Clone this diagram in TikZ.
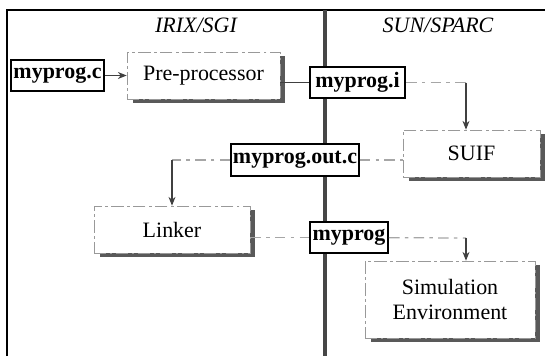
\documentclass[tikz,border=0pt]{standalone}
\usepackage{fontspec}
\setmainfont{Liberation Serif}
\usetikzlibrary{shadows,arrows.meta}
\begin{document}
\begin{tikzpicture}[x=0.02cm,y=-0.02cm,
    txt/.style={font=\fontsize{12.5}{14.5}\selectfont},
    file/.style={draw,line width=1.1pt,fill=white,inner sep=1pt,minimum height=0.62cm,
      font=\fontsize{12.5}{14.5}\selectfont\bfseries},
    tool/.style={txt,draw=gray!80,dash pattern=on 7pt off 2pt on 1.5pt off 2pt,fill=white,
      minimum height=0.94cm,align=center,
      drop shadow={shadow xshift=0.11cm,shadow yshift=-0.08cm,fill=gray!70!black,opacity=1}},
    ln/.style={draw=gray!50!black,line width=0.7pt},
    dl/.style={draw=gray!70,line width=0.7pt,dash pattern=on 6pt off 3pt on 2pt off 3pt},
    arr/.style={-{Stealth[length=5pt,width=4pt]}}
  ]
  \useasboundingbox (0,0) rectangle (545,356);
  %% frame and the two machines
  \draw[line width=1.2pt] (7,356) -- (7,10) -- (545,10);
  \draw[line width=2.4pt,gray!55!black] (325,10) -- (325,356);
  \node[txt,font=\fontsize{12.5}{14.5}\selectfont\itshape] (irix) at (196,25) {IRIX/SGI};
  \node[txt,font=\fontsize{12.5}{14.5}\selectfont\itshape] (sun) at (438,25) {SUN/SPARC};
  %% files
  \node[file,minimum width=1.86cm] (mc) at (57.5,75.5) {myprog.c};
  \node[file,minimum width=1.90cm] (mi) at (357.5,82.5) {myprog.i};
  \node[file,minimum width=2.48cm,minimum height=0.64cm] (oc) at (295,160) {myprog.out.c};
  \node[file,minimum width=1.56cm] (mp) at (349,237.5) {myprog};
  %% tools
  \node[tool,minimum width=3.06cm] (pre) at (203.5,75.5) {Pre-processor};
  \node[tool,minimum width=2.74cm] (suif) at (471.5,153.5) {SUIF};
  \node[tool,minimum width=3.12cm] (lk) at (172,229.5) {Linker};
  \node[tool,minimum width=3.40cm,minimum height=1.54cm] (sim) at (450,299.5) {Simulation\\Environment};
  %% connectors
  \draw[ln,arr] (mc) -- (pre);
  \draw[ln] (pre.east |- mi) -- (mi);
  \coordinate (c1) at (466,82.5);
  \draw[dl] (mi) -- (c1);
  \draw[ln,arr] (c1) -- (c1 |- suif.north);
  \draw[dl] (oc.east) -- (oc.east -| suif.west);
  \coordinate (c2) at (lk |- oc);
  \draw[dl] (oc) -- (c2);
  \draw[ln,arr] (c2) -- (lk);
  \draw[dl] (mp.west -| lk.east) -- (mp);
  \coordinate (c3) at (466,238);
  \draw[dl] (mp) -- (c3);
  \draw[ln,arr] (c3) -- (c3 |- sim.north);
\end{tikzpicture}
\end{document}
